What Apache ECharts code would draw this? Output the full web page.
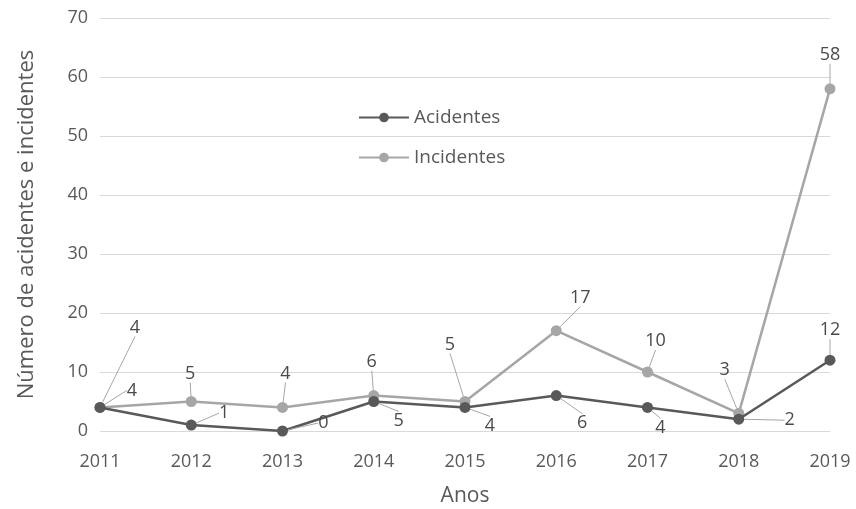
<!DOCTYPE html>
<html>
<head>
<meta charset="utf-8">
<script src="https://cdn.jsdelivr.net/npm/echarts@6/dist/echarts.min.js"></script>
<style>
  html, body { margin: 0; padding: 0; background: #fff; }
  #chart { width: 856px; height: 509px; }
</style>
</head>
<body>
<div id="chart"></div>
<script>
// dados do gráfico
var anos = ['2011', '2012', '2013', '2014', '2015', '2016', '2017', '2018', '2019'];
var acidentes = [4, 1, 0, 5, 4, 6, 4, 2, 12];
var incidentes = [4, 5, 4, 6, 5, 17, 10, 3, 58];

// deslocamento dos rótulos (px) em relação ao ponto
var offAcid = [[35, -80], [33, -12], [41, -8], [25, 19], [25, 18], [26, 27], [13, 20], [51, 1], [0, -30]];
var offInc = [[32, -17], [-1, -28], [3, -34], [-2, -34], [-15, -57], [24, -33], [8, -31], [-14, -43], [0, -34]];

var fonte = '"Open Sans", sans-serif';
var corTexto = '#595959';

function rotulo(off) {
    return function (params) {
        var o = off[params.dataIndex];
        return { dx: o[0], dy: o[1] };
    };
}

var myChart = echarts.init(document.getElementById('chart'));
var option = {
    animation: false,
    textStyle: { fontFamily: fonte },
    grid: { left: 100, right: 26, top: 18, bottom: 78, outerBoundsMode: 'none' },
    legend: {
        orient: 'vertical',
        left: 353,
        top: 103,
        itemWidth: 50,
        itemHeight: 12,
        itemGap: 21,
        textStyle: { fontSize: 19, color: corTexto, fontFamily: fonte },
        data: ['Acidentes', 'Incidentes']
    },
    xAxis: {
        type: 'category',
        data: anos,
        boundaryGap: false,
        name: 'Anos',
        nameLocation: 'middle',
        nameGap: 55,
        nameTextStyle: { fontSize: 21, color: corTexto },
        axisLine: { lineStyle: { color: '#d9d9d9' } },
        axisTick: { show: false },
        axisLabel: { fontSize: 18, color: corTexto, margin: 22 }
    },
    yAxis: {
        type: 'value',
        min: 0,
        max: 70,
        interval: 10,
        name: 'Número de acidentes e incidentes',
        nameLocation: 'middle',
        nameGap: 62,
        nameTextStyle: { fontSize: 22, color: corTexto },
        axisLine: { show: false },
        axisTick: { show: false },
        axisLabel: { fontSize: 18, color: corTexto, margin: 12 },
        splitLine: { lineStyle: { color: '#d9d9d9', width: 1 } }
    },
    series: [
        {
            name: 'Incidentes',
            type: 'line',
            data: incidentes,
            z: 2,
            symbol: 'circle',
            symbolSize: 11,
            itemStyle: { color: '#a6a6a6' },
            lineStyle: { color: '#a6a6a6', width: 2.5 },
            label: { show: true, position: 'inside', fontSize: 18, color: '#4a4a4a' },
            labelLine: { show: true, lineStyle: { color: '#a6a6a6', width: 1 } },
            labelLayout: rotulo(offInc)
        },
        {
            name: 'Acidentes',
            type: 'line',
            data: acidentes,
            z: 3,
            symbol: 'circle',
            symbolSize: 11,
            itemStyle: { color: '#595959' },
            lineStyle: { color: '#595959', width: 2.5 },
            label: { show: true, position: 'inside', fontSize: 18, color: '#4a4a4a' },
            labelLine: { show: true, lineStyle: { color: '#a6a6a6', width: 1 } },
            labelLayout: rotulo(offAcid)
        }
    ]
};
myChart.setOption(option);
</script>
</body>
</html>
